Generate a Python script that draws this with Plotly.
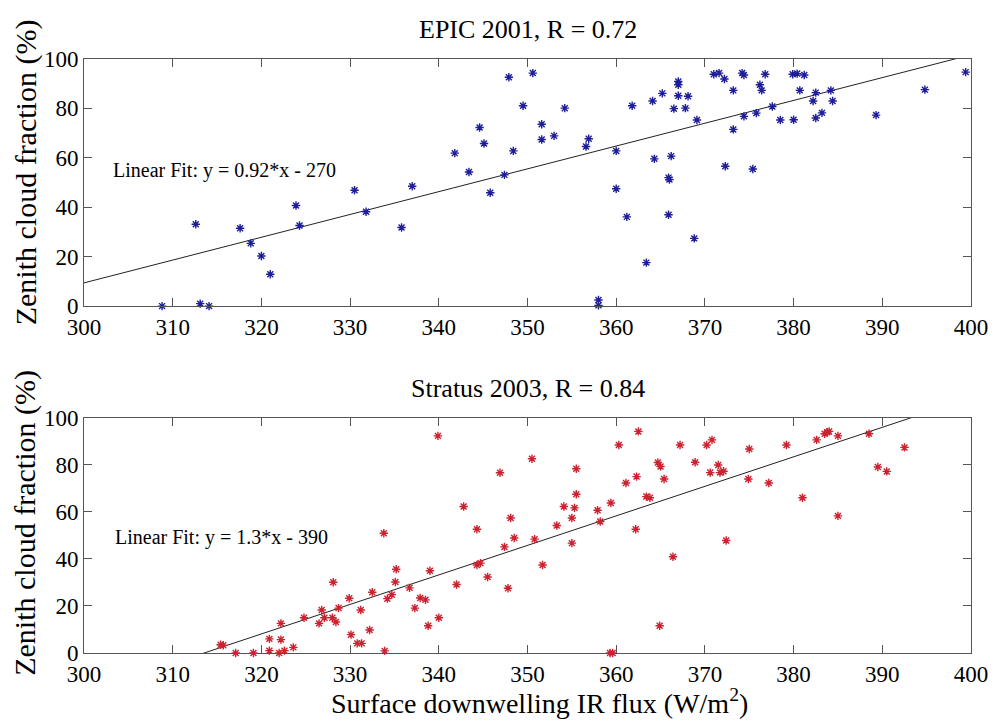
import plotly.graph_objects as go
from plotly.subplots import make_subplots
import numpy as np

# EPIC 2001 cruise: surface downwelling IR flux (W/m^2) vs zenith cloud fraction (%)
epic_flux = [308.8, 313.1, 314.1, 312.6, 317.6, 318.8, 320.0, 321.0, 323.9, 324.3,
             330.5, 331.8, 335.8, 337.0, 341.8, 343.4, 344.6, 345.1, 345.8, 347.4,
             347.9, 348.4, 349.5, 350.6, 351.6, 351.6, 353.0, 354.2, 356.6, 356.9,
             358.0, 358.0, 360.0, 360.0, 361.2, 361.8, 363.4, 364.1, 364.3, 365.2,
             365.9, 366.0, 365.9, 366.2, 366.5, 367.0, 367.0, 367.0, 367.8, 368.1,
             368.8, 369.1, 371.0, 371.6, 372.2, 372.3, 373.2, 373.2, 374.2, 374.4,
             374.4, 375.4, 375.8, 376.2, 376.4, 376.8, 377.6, 378.5, 379.9, 380.0,
             380.4, 380.7, 381.2, 382.2, 382.5, 382.5, 383.2, 384.2, 384.4, 389.3,
             394.8, 399.4]
epic_cloud = [0.0, 1.0, 0.0, 33.1, 31.5, 25.4, 20.3, 12.9, 40.7, 32.6,
              46.9, 38.2, 31.8, 48.5, 61.9, 54.3, 72.3, 65.8, 45.9, 53.1,
              92.6, 62.8, 81.1, 94.3, 73.6, 67.4, 68.9, 80.1, 64.6, 67.7,
              2.5, 0.3, 62.8, 47.5, 36.1, 81.1, 17.6, 83.0, 59.6, 86.1,
              52.0, 51.2, 37.0, 60.7, 79.9, 90.9, 89.6, 85.1, 80.1, 84.9,
              27.4, 75.3, 93.8, 94.3, 91.9, 56.6, 87.3, 71.5, 94.3, 93.5,
              76.8, 55.5, 78.1, 89.6, 87.3, 93.8, 80.8, 75.3, 93.8, 75.4,
              94.1, 87.3, 93.5, 83.0, 86.4, 76.1, 78.2, 87.3, 83.0, 77.3,
              87.6, 94.7]

# Stratus 2003 cruise
stratus_flux = [315.4, 315.7, 317.1, 319.1, 320.9, 320.9, 322.0, 322.2, 322.2, 322.6,
                323.6, 324.8, 326.5, 326.8, 327.1, 328.0, 328.4, 328.1, 328.7, 329.9,
                330.1, 330.8, 331.3, 331.2, 332.2, 332.5, 333.8, 333.9, 334.2, 334.7,
                335.1, 335.2, 336.7, 337.3, 337.9, 338.5, 339.0, 338.8, 340.0, 339.9,
                342.0, 342.8, 344.3, 344.7, 344.3, 345.5, 346.9, 347.4, 347.8, 348.1,
                348.5, 350.5, 350.8, 351.7, 353.3, 354.1, 355.0, 355.0, 355.3, 355.5,
                355.5, 357.9, 358.2, 359.4, 359.3, 359.6, 360.3, 361.1, 362.2, 362.3,
                362.5, 363.4, 363.8, 364.7, 365.0, 365.4, 364.9, 366.4, 367.2, 368.9,
                370.2, 370.8, 370.6, 371.5, 371.7, 372.1, 372.4, 374.9, 375.0, 377.2,
                379.2, 381.0, 382.6, 383.5, 383.8, 384.0, 385.0, 385.0, 388.5, 389.5,
                390.5, 392.5]
stratus_cloud = [3.5, 3.3, 0.0, 0.0, 6.0, 1.0, 0.0, 12.6, 5.7, 1.0,
                 2.4, 15.0, 12.6, 18.3, 15.0, 15.0, 13.2, 30.1, 19.1, 23.3,
                 7.8, 4.1, 4.1, 18.3, 9.8, 25.8, 50.9, 0.9, 23.1, 24.8,
                 30.2, 35.6, 27.7, 19.1, 23.4, 22.6, 35.0, 11.6, 15.0, 92.3,
                 29.1, 62.3, 37.4, 38.2, 52.6, 32.3, 76.6, 45.1, 27.5, 57.4,
                 48.9, 82.6, 48.4, 37.4, 54.2, 62.3, 57.4, 46.7, 61.7, 67.5,
                 78.3, 60.7, 55.9, 63.8, 0.0, 0.0, 88.4, 72.3, 52.6, 75.0,
                 94.2, 66.5, 66.0, 81.0, 79.3, 74.0, 11.6, 40.9, 88.4, 81.1,
                 88.4, 90.6, 76.7, 79.9, 76.7, 77.3, 47.8, 74.0, 86.7, 72.3,
                 88.4, 66.0, 90.6, 93.2, 93.9, 94.2, 92.3, 58.3, 93.2, 79.1,
                 77.2, 87.4]

# Least-squares fit coefficients (slope, intercept) for each cruise
epic_fit = (0.923, -267.5)
stratus_fit = (1.255, -393.5)

panel_titles = ["EPIC 2001, R = 0.72", "Stratus 2003, R = 0.84"]
x_ticks = list(range(300, 401, 10))
y_ticks = list(range(0, 101, 20))

FONT = "'Liberation Serif', 'Times New Roman', Times, serif"


def sig2(v):
    """Format a number with two significant digits, as num2str(v, 2) would."""
    return f"{float(f'{v:.2g}'):g}"


def fit_label(slope, intercept):
    sign = "-" if intercept < 0 else "+"
    return f"Linear Fit: y = {sig2(slope)}*x {sign} {sig2(abs(intercept))}"


fig = make_subplots(rows=2, cols=1)

panels = [
    (epic_flux, epic_cloud, epic_fit, "#1e1e9a"),
    (stratus_flux, stratus_cloud, stratus_fit, "#cc2230"),
]

line_x = np.array([300.0, 400.0])
for i, (fx, cy, (m, b), color) in enumerate(panels, start=1):
    fig.add_trace(go.Scatter(
        x=line_x, y=m * line_x + b, mode="lines",
        line=dict(color="#222222", width=1), showlegend=False,
        hoverinfo="skip"), row=i, col=1)
    fig.add_trace(go.Scatter(
        x=fx, y=cy, mode="markers", cliponaxis=False,
        marker=dict(symbol="asterisk-open", size=7, color=color,
                    line=dict(width=1.4, color=color)),
        showlegend=False), row=i, col=1)

axis_common = dict(
    showgrid=False, zeroline=False, showline=True, mirror="allticks",
    linecolor="#555555", linewidth=1, ticks="inside", ticklen=8,
    tickcolor="#555555", tickwidth=1,
    tickfont=dict(family=FONT, size=23, color="black"),
)

for i in (1, 2):
    fig.update_xaxes(range=[300, 400], tickvals=x_ticks, row=i, col=1, **axis_common)
    fig.update_yaxes(range=[0, 100], tickvals=y_ticks, row=i, col=1, **axis_common)

# panel placement
fig.update_layout(
    yaxis=dict(domain=[0.584, 1.0]),
    yaxis2=dict(domain=[0.0, 0.396]),
)

annotations = []
# panel titles
for text, yp in zip(panel_titles, (1.0505, 0.446)):
    annotations.append(dict(text=text, x=0.5, y=yp, xref="paper", yref="paper",
                            showarrow=False, xanchor="center", yanchor="middle",
                            font=dict(family=FONT, size=26, color="black")))
# fit equations
annotations.append(dict(text=fit_label(*epic_fit), x=303.0, y=55, xref="x", yref="y",
                        showarrow=False, xanchor="left", yanchor="middle",
                        font=dict(family=FONT, size=20, color="black")))
annotations.append(dict(text=fit_label(*stratus_fit), x=303.3, y=49, xref="x2", yref="y2",
                        showarrow=False, xanchor="left", yanchor="middle",
                        font=dict(family=FONT, size=20, color="black")))
# y-axis titles
for yc in (0.81, 0.22):
    annotations.append(dict(text="Zenith cloud fraction (%)", x=-0.066, y=yc,
                            xref="paper", yref="paper", textangle=-90,
                            showarrow=False, xanchor="center", yanchor="middle",
                            font=dict(family=FONT, size=30, color="black")))
# x-axis title
annotations.append(dict(text="Surface downwelling IR flux (W/m<sup>2</sup>)", x=0.513, y=-0.082,
                        xref="paper", yref="paper", showarrow=False,
                        xanchor="center", yanchor="middle",
                        font=dict(family=FONT, size=28, color="black")))

fig.update_layout(
    width=1000, height=723,
    margin=dict(l=84, r=23, t=59, b=70),
    paper_bgcolor="white", plot_bgcolor="white",
    annotations=annotations,
)

fig.write_html("out.html")
